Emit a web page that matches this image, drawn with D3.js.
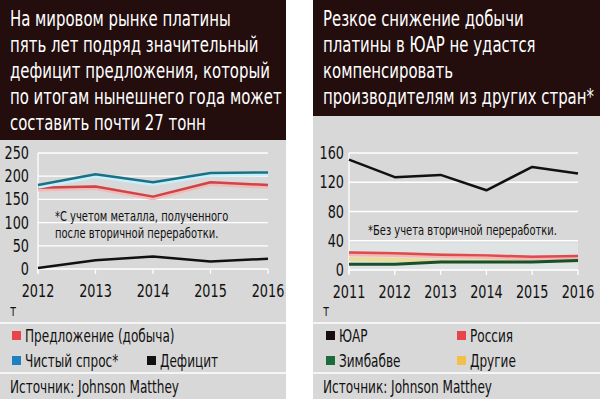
<!DOCTYPE html>
<html>
<head>
<meta charset="utf-8">
<script src="https://cdn.jsdelivr.net/npm/d3@7"></script>
<style>
  body { margin: 0; background: #fff; }
  svg text { font-family: "DejaVu Sans Condensed", "DejaVu Sans", sans-serif; }
</style>
</head>
<body>
<svg id="chart"></svg>
<script>
// left chart data (tonnes)
const yearsLeft = [2012, 2013, 2014, 2015, 2016];
const supply = [175, 178, 156, 187, 181];
const demand = [181, 204, 187, 207, 208];
const deficit = [2, 19, 27, 16, 22];
const ticksLeft = [0, 50, 100, 150, 200, 250];

// right chart data (tonnes)
const yearsRight = [2011, 2012, 2013, 2014, 2015, 2016];
const southAfrica = [151, 127, 130, 109, 141, 132];
const russia = [24, 23, 21, 20, 18, 19];
const zimbabwe = [8, 8, 11, 11, 11, 13];
const others = [15, 14, 12, 12, 12, 13];
const ticksRight = [0, 40, 80, 120, 160];

const titleLeft = [
  'На мировом рынке платины',
  'пять лет подряд значительный',
  'дефицит предложения, который',
  'по итогам нынешнего года может',
  'составить почти 27 тонн'
];
const titleRight = [
  'Резкое снижение добычи',
  'платины в ЮАР не удастся',
  'компенсировать',
  'производителям из других стран*'
];

const width = 600;
const height = 399;
const dark = '#230d0d';
const gray = '#d8d8d8';
const squeeze = 0.79; // the original uses a narrow grotesque

const svg = d3.select('#chart')
  .attr('width', width)
  .attr('height', height);

// condensed text helper
function txt(parent, x, y, str, size, anchor, color) {
  return parent.append('text')
    .attr('transform', `translate(${x},${y}) scale(${squeeze},1)`)
    .attr('text-anchor', anchor || 'start')
    .attr('font-size', size)
    .attr('fill', color || '#111')
    .text(str);
}

function panel(x0, x1, headerH, lines) {
  svg.append('rect')
    .attr('x', x0).attr('y', 0)
    .attr('width', x1 - x0).attr('height', height)
    .attr('fill', gray);
  svg.append('rect')
    .attr('x', x0).attr('y', 0)
    .attr('width', x1 - x0).attr('height', headerH)
    .attr('fill', dark);
  lines.forEach((d, i) => txt(svg, x0 + 10, 26 + i * 26, d, 21, 'start', '#fff'));
  [323, 373].forEach((y) => {
    svg.append('line')
      .attr('x1', x0).attr('x2', x1)
      .attr('y1', y).attr('y2', y)
      .attr('stroke', '#fff').attr('stroke-width', 1.5);
  });
  txt(svg, x0 + 10, 316, 'т', 15);
  txt(svg, x0 + 10, 393, 'Источник: Johnson Matthey', 17);
}

function plot(years, ticks, xRange, yRange, series, labelX) {
  const x = d3.scaleLinear().domain(d3.extent(years)).range(xRange);
  const y = d3.scaleLinear().domain([0, d3.max(ticks)]).range(yRange);
  const g = svg.append('g');

  g.selectAll('.grid')
    .data(ticks)
    .enter()
    .append('line')
    .attr('x1', xRange[0]).attr('x2', xRange[1])
    .attr('y1', (d) => y(d)).attr('y2', (d) => y(d))
    .attr('stroke', '#fff').attr('stroke-width', 1.3);

  g.append('line')
    .attr('x1', xRange[0]).attr('x2', xRange[0])
    .attr('y1', yRange[1]).attr('y2', yRange[0] + 4)
    .attr('stroke', '#fff').attr('stroke-width', 1.3);

  g.selectAll('.tick')
    .data(years)
    .enter()
    .append('line')
    .attr('x1', (d) => x(d)).attr('x2', (d) => x(d))
    .attr('y1', yRange[0]).attr('y2', yRange[0] + 5)
    .attr('stroke', '#fff').attr('stroke-width', 1.3);

  ticks.forEach((d) => txt(g, labelX, y(d) + 6, d, 18, 'end'));
  years.forEach((d) => txt(g, x(d), yRange[0] + 28, d, 18, 'middle'));

  const line = d3.line()
    .x((d, i) => x(years[i]))
    .y((d) => y(d));

  series.forEach((s) => {
    if (s.halo) {
      g.append('path')
        .attr('d', line(s.values))
        .attr('fill', 'none')
        .attr('stroke', s.halo)
        .attr('stroke-width', 5)
        .attr('stroke-linejoin', 'round')
        .attr('transform', 'translate(0,1.2)');
    }
    g.append('path')
      .attr('d', line(s.values))
      .attr('fill', 'none')
      .attr('stroke', s.color)
      .attr('stroke-width', s.width || 2.5)
      .attr('stroke-linejoin', 'round');
  });
  return g;
}

function legend(items) {
  items.forEach((d) => {
    svg.append('rect')
      .attr('x', d.x).attr('y', d.y - 5)
      .attr('width', 9).attr('height', 9)
      .attr('fill', d.color);
    txt(svg, d.x + 13, d.y + 6, d.label, 17);
  });
}

// left panel
panel(0, 286, 140, titleLeft);
plot(yearsLeft, ticksLeft, [38, 268], [269, 153], [
  { values: supply, color: '#cf4446', halo: '#f2b9b9' },
  { values: demand, color: '#1f6f84', halo: '#c4f1fb' },
  { values: deficit, color: '#111111' }
], 29);
txt(svg, 55, 221, '*С учетом металла, полученного', 14);
txt(svg, 55, 238, 'после вторичной переработки.', 14);
legend([
  { x: 12, y: 336, color: '#e8454a', label: 'Предложение (добыча)' },
  { x: 12, y: 361, color: '#1f80c0', label: 'Чистый спрос*' },
  { x: 147, y: 361, color: '#111111', label: 'Дефицит' }
]);

// right panel
panel(313, 600, 116, titleRight);
const yBand = d3.scaleLinear().domain([0, 160]).range([270, 153]);
svg.append('rect')
  .attr('x', 349).attr('y', yBand(37))
  .attr('width', 578 - 349).attr('height', yBand(0) - yBand(37))
  .attr('fill', '#dfe3e3');
plot(yearsRight, ticksRight, [349, 578], [270, 153], [
  { values: others, color: '#ecdc9a', width: 4 },
  { values: russia, color: '#dd4b4d', halo: '#f4b7b7' },
  { values: zimbabwe, color: '#15512a', width: 3 },
  { values: southAfrica, color: '#111111' }
], 344);
txt(svg, 368, 235, '*Без учета вторичной переработки.', 14);
legend([
  { x: 326, y: 336, color: '#1a0d0d', label: 'ЮАР' },
  { x: 457, y: 336, color: '#e8454a', label: 'Россия' },
  { x: 326, y: 361, color: '#1c6b3a', label: 'Зимбабве' },
  { x: 457, y: 361, color: '#f2c04a', label: 'Другие' }
]);
</script>
</body>
</html>
